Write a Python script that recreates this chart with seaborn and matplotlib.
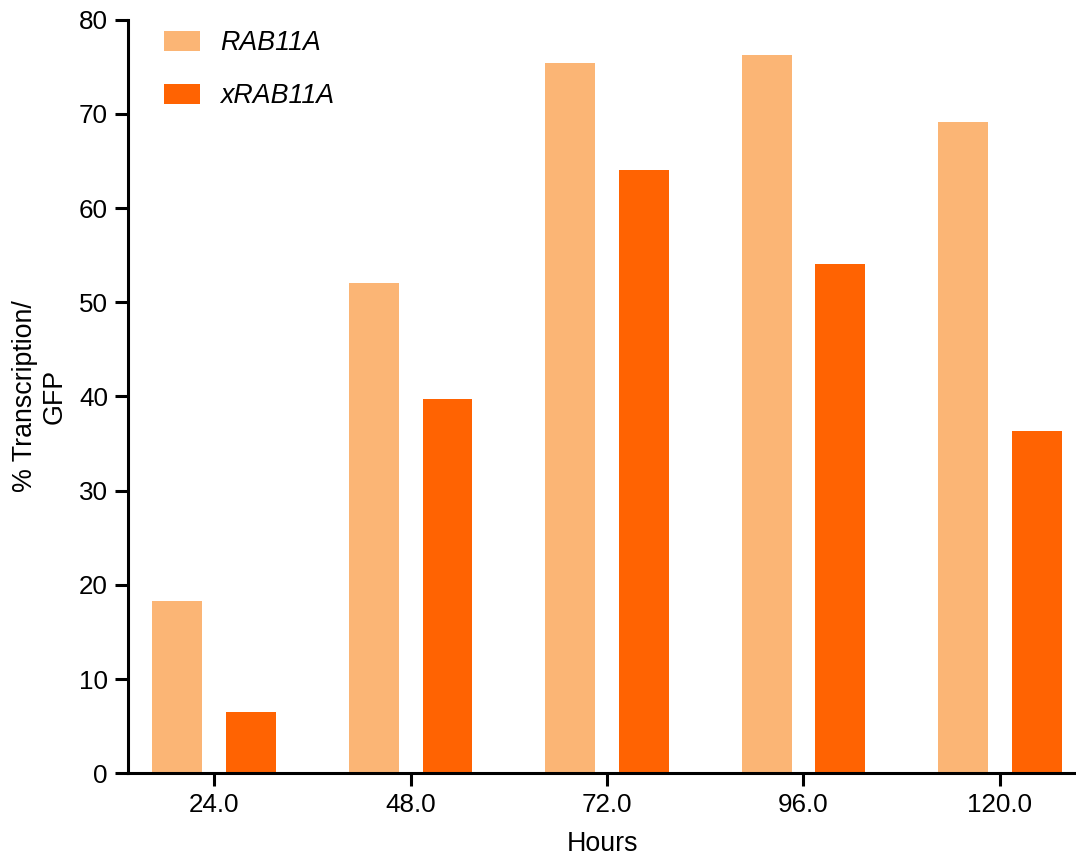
import matplotlib
matplotlib.use("Agg")
import matplotlib.pyplot as plt
import seaborn as sns
import pandas as pd

hours = ["24.0", "48.0", "72.0", "96.0", "120.0"]
series_names = ["RAB11A", "xRAB11A"]
rab11a = [18.3, 52.0, 75.4, 76.3, 69.2]
xrab11a = [6.5, 39.7, 64.0, 54.1, 36.3]
colors = ["#FBB575", "#FF6302"]

df = pd.DataFrame({
    "Hours": hours * 2,
    "value": rab11a + xrab11a,
    "series": [series_names[0]] * len(hours) + [series_names[1]] * len(hours),
})

sns.set_theme(style="ticks")
plt.rcParams["font.family"] = ["Liberation Sans", "DejaVu Sans"]
plt.rcParams["text.color"] = "black"

fig = plt.figure(figsize=(10.76, 8.61), dpi=100)
ax = fig.add_axes([0.119, 0.102, 0.881, 0.875])

sns.barplot(data=df, x="Hours", y="value", hue="series", order=hours,
            hue_order=series_names, palette=colors, width=0.752, gap=0.324,
            linewidth=0, saturation=1, ax=ax, legend=False)

ax.set_xlim(-0.438, 4.387)
ax.set_ylim(0, 80)
ax.set_yticks(range(0, 81, 10))
for s in ["top", "right"]:
    ax.spines[s].set_visible(False)
for s in ["left", "bottom"]:
    ax.spines[s].set_linewidth(2.2)
    ax.spines[s].set_color("black")
ax.tick_params(axis="both", length=9.5, width=2.2, labelsize=18.7, color="black",
               labelcolor="black", pad=5)
ax.set_xlabel("Hours", fontsize=19.3, color="black", labelpad=10)
ax.set_ylabel("% Transcription/\nGFP", fontsize=19.3, color="black", labelpad=8)

from matplotlib.patches import Patch
handles = [Patch(facecolor=c, edgecolor="none") for c in colors]
leg = ax.legend(handles, series_names, loc="upper left",
                bbox_to_anchor=(0.038, 0.986), frameon=False,
                prop={"size": 19.3, "style": "italic"}, labelcolor="black",
                handlelength=1.34, handleheight=0.75, handletextpad=0.75,
                labelspacing=1.0, borderpad=0, borderaxespad=0)

fig.savefig("out.png", dpi=100)
